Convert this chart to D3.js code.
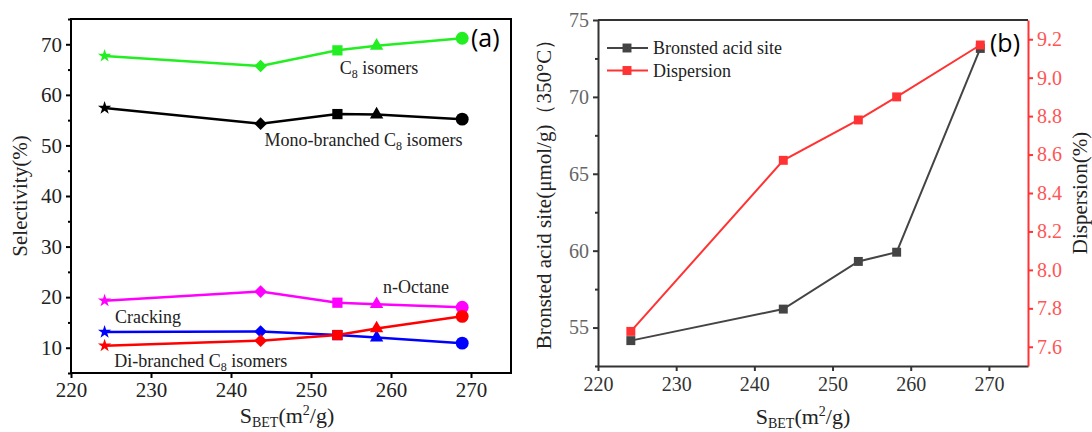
<!DOCTYPE html>
<html>
<head>
<meta charset="utf-8">
<script src="https://cdn.jsdelivr.net/npm/d3@7"></script>
<style>
  body { margin: 0; background: #fff; }
  svg { display: block; }
  text { font-family: "Liberation Serif", "Times New Roman", serif; }
</style>
</head>
<body>
<svg id="chart" width="1092" height="432" font-family="Liberation Serif, serif"></svg>
<script>
// ---------------- data ----------------
const sbet = [224.2, 243.7, 253.3, 258.2, 268.9];
const shapes = ['star', 'diamond', 'square', 'triangle', 'circle'];

const c8Isomers = [67.7, 65.7, 68.8, 69.7, 71.2];
const monoBranched = [57.4, 54.3, 56.2, 56.1, 55.2];
const nOctane = [19.3, 21.1, 18.9, 18.6, 18.0];
const cracking = [13.1, 13.2, 12.5, 12.0, 10.9];
const diBranched = [10.4, 11.4, 12.5, 13.8, 16.2];

const bronsted = [54.15, 56.2, 59.3, 59.9, 73.15];
const dispersion = [7.68, 8.57, 8.78, 8.90, 9.17];

const xTicks = [220, 230, 240, 250, 260, 270];
const selTicks = [10, 20, 30, 40, 50, 60, 70];
const acidTicks = [55, 60, 65, 70, 75];
const dispTicks = [7.6, 7.8, 8.0, 8.2, 8.4, 8.6, 8.8, 9.0, 9.2];

const SERIF = 'Liberation Serif, Times New Roman, serif';
const svg = d3.select('#chart');

// ----------------------------------------------------------
//                      panel (a)
// ----------------------------------------------------------
const A = { left: 71, right: 511, top: 19, bottom: 373 };

const xA = d3.scaleLinear().domain([220, 275]).range([A.left, A.right]);
const yA = d3.scaleLinear().domain([5, 75]).range([A.bottom, A.top]);

const seriesA = [
  { name: 'c8', values: c8Isomers, color: '#22ee22' },
  { name: 'mono', values: monoBranched, color: '#000000' },
  { name: 'octane', values: nOctane, color: '#ff00ff' },
  { name: 'cracking', values: cracking, color: '#0000ff' },
  { name: 'di', values: diBranched, color: '#ff0000' }
];

const labelsA = [
  { x: 253.6, y: 64.2, main: 'C', sub: '8', rest: ' isomers' },
  { x: 244.2, y: 49.8, main: 'Mono-branched C', sub: '8', rest: ' isomers' },
  { x: 259.0, y: 20.8, main: 'n-Octane', sub: '', rest: '' },
  { x: 225.5, y: 14.9, main: 'Cracking', sub: '', rest: '' },
  { x: 225.4, y: 6.2, main: 'Di-branched C', sub: '8', rest: ' isomers' }
];

function symbolFor(shape) {
  if (shape === 'star') return d3.symbol(d3.symbolStar, 55)();
  if (shape === 'square') return d3.symbol(d3.symbolSquare, 105)();
  if (shape === 'diamond') return d3.symbol(d3.symbolSquare, 80)();
  if (shape === 'triangle') return d3.symbol(d3.symbolTriangle, 78)();
  return d3.symbol(d3.symbolCircle, 130)();
}

const gA = svg.append('g');

// axes
gA.append('g')
  .attr('transform', `translate(${A.left},0)`)
  .call(d3.axisLeft(yA).tickValues(selTicks).tickSize(5).tickSizeOuter(0).tickPadding(4));
gA.append('g')
  .attr('transform', `translate(${A.left},0)`)
  .call(d3.axisLeft(yA).tickValues(d3.range(5, 76, 10)).tickSize(3).tickFormat(''))
  .select('.domain').remove();
gA.append('g')
  .attr('transform', `translate(0,${A.bottom})`)
  .call(d3.axisBottom(xA).tickValues(xTicks).tickSize(5).tickSizeOuter(0).tickPadding(4));

gA.selectAll('g').attr('font-family', SERIF);
gA.selectAll('.tick line').attr('stroke', '#000').attr('stroke-width', 2);
gA.selectAll('.tick text').attr('fill', '#222')
  .attr('font-family', SERIF).attr('font-size', 21)
  .style('font-family', SERIF).style('font-size', '21px');
gA.selectAll('.domain').remove();

gA.append('rect')
  .attr('x', A.left).attr('y', A.top)
  .attr('width', A.right - A.left).attr('height', A.bottom - A.top)
  .attr('fill', 'none').attr('stroke', '#000').attr('stroke-width', 2);

const lineA = d3.line().x((d, i) => xA(sbet[i])).y(d => yA(d));

seriesA.forEach(s => {
  gA.append('path')
    .attr('d', lineA(s.values))
    .attr('fill', 'none').attr('stroke', s.color).attr('stroke-width', 2.5);
  gA.selectAll(null)
    .data(s.values)
    .enter().append('path')
    .attr('d', (d, i) => symbolFor(shapes[i]))
    .attr('transform', (d, i) => `translate(${xA(sbet[i])},${yA(d)})` + (shapes[i] === 'diamond' ? ' rotate(45)' : ''))
    .attr('fill', s.color);
});

labelsA.forEach(l => {
  const t = gA.append('text')
    .attr('x', xA(l.x)).attr('y', yA(l.y))
    .attr('fill', '#222').style('font-size', '18px');
  t.append('tspan').text(l.main);
  if (l.sub) {
    t.append('tspan').attr('dy', 4).style('font-size', '12px').text(l.sub);
    t.append('tspan').attr('dy', -4).text(l.rest);
  }
});

// axis titles
gA.append('text')
  .attr('transform', `translate(27,${(A.top + A.bottom) / 2}) rotate(-90)`)
  .attr('text-anchor', 'middle').attr('fill', '#222').style('font-size', '21px')
  .text('Selectivity(%)');

function sbetTitle(g, cx, y) {
  const t = g.append('text').attr('x', cx).attr('y', y)
    .attr('text-anchor', 'middle').attr('fill', '#222').style('font-size', '22px');
  t.append('tspan').text('S');
  t.append('tspan').attr('dy', 4).style('font-size', '14px').text('BET');
  t.append('tspan').attr('dy', -4).text('(m');
  t.append('tspan').attr('dy', -8).style('font-size', '14px').text('2');
  t.append('tspan').attr('dy', 8).text('/g)');
}
sbetTitle(gA, 287, 423);

gA.append('text')
  .attr('x', 471).attr('y', 47)
  .style('font-family', '"Open Sans", sans-serif').style('font-size', '25px')
  .attr('fill', '#000').text('(a)');

// ----------------------------------------------------------
//                      panel (b)
// ----------------------------------------------------------
const B = { left: 598, right: 1028, top: 20, bottom: 366 };

const xB = d3.scaleLinear().domain([220, 275]).range([B.left, B.right]);
const yB = d3.scaleLinear().domain([52.5, 75]).range([B.bottom, B.top]);
const yB2 = d3.scaleLinear().domain([7.5, 9.3]).range([B.bottom, B.top]);

const gB = svg.append('g');

const axL = gB.append('g')
  .attr('transform', `translate(${B.left},0)`)
  .call(d3.axisLeft(yB).tickValues(acidTicks).tickSize(5).tickSizeOuter(0).tickPadding(4));
gB.append('g')
  .attr('transform', `translate(${B.left},0)`)
  .call(d3.axisLeft(yB).tickValues([52.5, 57.5, 62.5, 67.5, 72.5]).tickSize(3).tickFormat(''))
  .select('.domain').remove();
const axB = gB.append('g')
  .attr('transform', `translate(0,${B.bottom})`)
  .call(d3.axisBottom(xB).tickValues(xTicks).tickSize(5).tickSizeOuter(0).tickPadding(6));

[axL, axB].forEach(a => {
  a.select('.domain').attr('stroke', '#333').attr('stroke-width', 2);
});
gB.selectAll('.tick line').attr('stroke', '#333').attr('stroke-width', 2);

const axR = gB.append('g')
  .attr('transform', `translate(${B.right},0)`)
  .call(d3.axisRight(yB2).tickValues(dispTicks).tickSize(5).tickSizeOuter(0).tickPadding(4)
    .tickFormat(d3.format('.1f')));
axR.select('.domain').attr('stroke', '#ff3333').attr('stroke-width', 2);
axR.selectAll('.tick line').attr('stroke', '#ff3333').attr('stroke-width', 2);

gB.selectAll('g').attr('font-family', SERIF);
gB.selectAll('.tick text')
  .attr('font-family', SERIF).attr('font-size', 20)
  .style('font-family', SERIF).style('font-size', '20px');
axL.selectAll('.tick text').attr('fill', '#666');
axB.selectAll('.tick text').attr('fill', '#333');
axR.selectAll('.tick text').attr('fill', '#ff5555');

gB.append('line')
  .attr('x1', B.left).attr('x2', B.right).attr('y1', B.top).attr('y2', B.top)
  .attr('stroke', '#333').attr('stroke-width', 2);

const seriesB = [
  { name: 'Bronsted acid site', values: bronsted, y: yB, color: '#444444' },
  { name: 'Dispersion', values: dispersion, y: yB2, color: '#ff3333' }
];

seriesB.forEach(s => {
  const line = d3.line().x((d, i) => xB(sbet[i])).y(d => s.y(d));
  gB.append('path')
    .attr('d', line(s.values))
    .attr('fill', 'none').attr('stroke', s.color).attr('stroke-width', 2);
  gB.selectAll(null)
    .data(s.values)
    .enter().append('path')
    .attr('d', d3.symbol(d3.symbolSquare, 80)())
    .attr('transform', (d, i) => `translate(${xB(sbet[i])},${s.y(d)})`)
    .attr('fill', s.color);
});

// legend
const legend = gB.append('g').attr('transform', `translate(607,48)`);
seriesB.forEach((s, i) => {
  const row = legend.append('g').attr('transform', `translate(0,${i * 22.5})`);
  row.append('line').attr('x1', 0).attr('x2', 41).attr('stroke', s.color).attr('stroke-width', 2);
  row.append('path').attr('d', d3.symbol(d3.symbolSquare, 80)())
    .attr('transform', 'translate(20,0)').attr('fill', s.color);
  row.append('text').attr('x', 46).attr('y', 6)
    .attr('fill', '#222').style('font-size', '18px').text(s.name);
});

// axis titles
gB.append('text')
  .attr('transform', `translate(551,${(B.top + B.bottom) / 2 - 4}) rotate(-90)`)
  .attr('text-anchor', 'middle').attr('fill', '#222').style('font-size', '21px')
  .text('Bronsted acid site(μmol/g)（350°C）');

gB.append('text')
  .attr('transform', `translate(1087,${(B.top + B.bottom) / 2}) rotate(-90)`)
  .attr('text-anchor', 'middle').attr('fill', '#222').style('font-size', '21px')
  .text('Dispersion(%)');

sbetTitle(gB, 803, 424);

gB.append('text')
  .attr('x', 990).attr('y', 52)
  .style('font-family', '"Open Sans", sans-serif').style('font-size', '25px')
  .attr('fill', '#000').text('(b)');
</script>
</body>
</html>
